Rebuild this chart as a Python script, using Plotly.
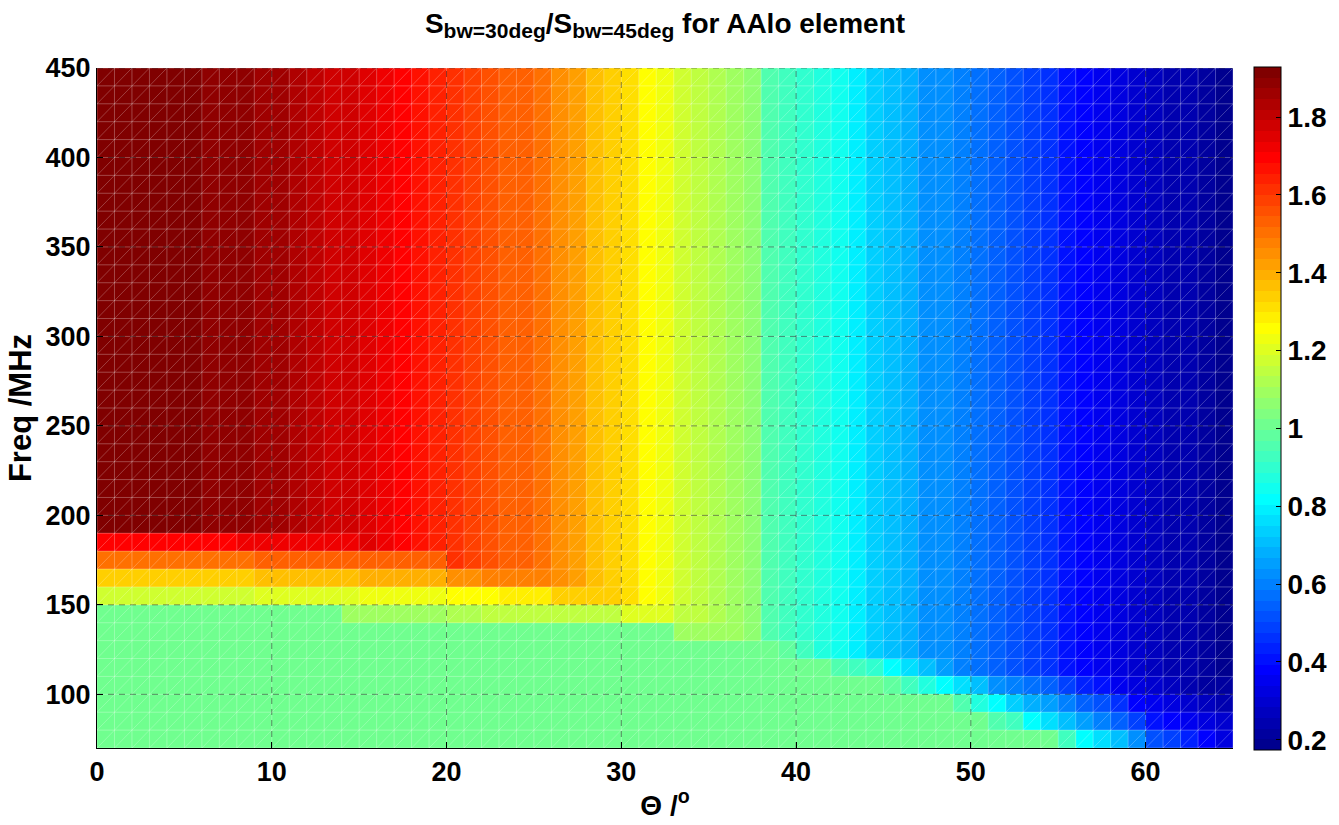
import plotly.graph_objects as go

# ---------------- data ----------------
# cell edges
theta_edges = list(range(0, 66))          # Theta / deg, 0..65
freq_edges = list(range(70, 451, 10))      # Freq / MHz, 70..450

x_tickvals = [0, 10, 20, 30, 40, 50, 60]
y_tickvals = [100, 150, 200, 250, 300, 350, 400, 450]
cb_tickvals = [0.2, 0.4, 0.6, 0.8, 1.0, 1.2, 1.4, 1.6, 1.8]
cb_ticktext = ["0.2", "0.4", "0.6", "0.8", "1", "1.2", "1.4", "1.6", "1.8"]

# ratio per theta column (0..64) for every freq row from 190 MHz up to 450 MHz
top_profile = [1.905, 1.91, 1.915, 1.92, 1.92, 1.915, 1.895, 1.89, 1.88, 1.865,
               1.85, 1.835, 1.805, 1.785, 1.77, 1.75, 1.725, 1.695, 1.67, 1.64,
               1.615, 1.585, 1.56, 1.535, 1.525, 1.505, 1.45, 1.42, 1.365, 1.34,
               1.31, 1.255, 1.23, 1.175, 1.145, 1.12, 1.095, 1.065, 0.955, 0.93,
               0.90, 0.875, 0.845, 0.79, 0.735, 0.71, 0.68, 0.63, 0.625, 0.60,
               0.57, 0.545, 0.515, 0.49, 0.46, 0.41, 0.38, 0.355, 0.325, 0.30,
               0.27, 0.245, 0.235, 0.215, 0.19]

row_70 = [1.00, 1.00, 1.00, 1.00, 1.00, 1.00, 1.00, 1.00, 1.00, 1.00,
          1.00, 1.00, 1.00, 1.00, 1.00, 1.00, 1.00, 1.00, 1.00, 1.00,
          1.00, 1.00, 1.00, 1.00, 1.00, 1.00, 1.00, 1.00, 1.00, 1.00,
          1.00, 1.00, 1.00, 1.00, 1.00, 1.00, 1.00, 1.00, 1.00, 1.00,
          1.00, 1.00, 1.00, 1.00, 1.00, 1.00, 1.00, 1.00, 1.00, 1.00,
          1.00, 1.00, 1.00, 1.00, 1.00, 0.93, 0.82, 0.765, 0.71, 0.63,
          0.515, 0.49, 0.435, 0.38, 0.325]
row_80 = [1.00, 1.00, 1.00, 1.00, 1.00, 1.00, 1.00, 1.00, 1.00, 1.00,
          1.00, 1.00, 1.00, 1.00, 1.00, 1.00, 1.00, 1.00, 1.00, 1.00,
          1.00, 1.00, 1.00, 1.00, 1.00, 1.00, 1.00, 1.00, 1.00, 1.00,
          1.00, 1.00, 1.00, 1.00, 1.00, 1.00, 1.00, 1.00, 1.00, 1.00,
          1.00, 1.00, 1.00, 1.00, 1.00, 1.00, 1.00, 1.00, 1.00, 1.00,
          1.00, 0.955, 0.93, 0.82, 0.765, 0.71, 0.655, 0.60, 0.545, 0.49,
          0.41, 0.38, 0.355, 0.325, 0.30]
row_90 = [1.00, 1.00, 1.00, 1.00, 1.00, 1.00, 1.00, 1.00, 1.00, 1.00,
          1.00, 1.00, 1.00, 1.00, 1.00, 1.00, 1.00, 1.00, 1.00, 1.00,
          1.00, 1.00, 1.00, 1.00, 1.00, 1.00, 1.00, 1.00, 1.00, 1.00,
          1.00, 1.00, 1.00, 1.00, 1.00, 1.00, 1.00, 1.00, 1.00, 1.00,
          1.00, 1.00, 1.00, 1.00, 1.00, 1.00, 1.00, 1.00, 1.00, 0.955,
          0.875, 0.82, 0.735, 0.68, 0.655, 0.60, 0.545, 0.515, 0.46, 0.38,
          0.355, 0.325, 0.30, 0.27, 0.245]
row_100 = [1.00, 1.00, 1.00, 1.00, 1.00, 1.00, 1.00, 1.00, 1.00, 1.00,
           1.00, 1.00, 1.00, 1.00, 1.00, 1.00, 1.00, 1.00, 1.00, 1.00,
           1.00, 1.00, 1.00, 1.00, 1.00, 1.00, 1.00, 1.00, 1.00, 1.00,
           1.00, 1.00, 1.00, 1.00, 1.00, 1.00, 1.00, 1.00, 1.00, 1.00,
           1.00, 1.00, 1.00, 1.00, 1.00, 0.985, 0.93, 0.875, 0.82, 0.765,
           0.71, 0.63, 0.60, 0.57, 0.545, 0.49, 0.435, 0.41, 0.355, 0.325,
           0.30, 0.27, 0.245, 0.215, 0.21]
row_110 = [1.00, 1.00, 1.00, 1.00, 1.00, 1.00, 1.00, 1.00, 1.00, 1.00,
           1.00, 1.00, 1.00, 1.00, 1.00, 1.00, 1.00, 1.00, 1.00, 1.00,
           1.00, 1.00, 1.00, 1.00, 1.00, 1.00, 1.00, 1.00, 1.00, 1.00,
           1.00, 1.00, 1.00, 1.00, 1.00, 1.00, 1.00, 1.00, 1.00, 1.00,
           1.00, 1.00, 0.955, 0.93, 0.90, 0.82, 0.765, 0.71, 0.655, 0.60,
           0.57, 0.545, 0.515, 0.49, 0.46, 0.41, 0.38, 0.355, 0.325, 0.30,
           0.27, 0.245, 0.235, 0.215, 0.19]
row_120 = [1.00, 1.00, 1.00, 1.00, 1.00, 1.00, 1.00, 1.00, 1.00, 1.00,
           1.00, 1.00, 1.00, 1.00, 1.00, 1.00, 1.00, 1.00, 1.00, 1.00,
           1.00, 1.00, 1.00, 1.00, 1.00, 1.00, 1.00, 1.00, 1.00, 1.00,
           1.00, 1.00, 1.00, 1.00, 1.00, 1.00, 1.00, 1.00, 1.00, 0.985,
           0.93, 0.875, 0.845, 0.79, 0.735, 0.71, 0.68, 0.63, 0.625, 0.60,
           0.57, 0.545, 0.515, 0.49, 0.46, 0.41, 0.38, 0.355, 0.325, 0.30,
           0.27, 0.245, 0.235, 0.215, 0.19]
row_130 = [1.00, 1.00, 1.00, 1.00, 1.00, 1.00, 1.00, 1.00, 1.00, 1.00,
           1.00, 1.00, 1.00, 1.00, 1.00, 1.00, 1.00, 1.00, 1.00, 1.00,
           1.00, 1.00, 1.00, 1.00, 1.00, 1.00, 1.00, 1.00, 1.00, 1.00,
           1.00, 1.00, 1.00, 1.095, 1.095, 1.095, 1.095, 1.065, 0.955, 0.93,
           0.90, 0.875, 0.845, 0.79, 0.735, 0.71, 0.68, 0.63, 0.625, 0.60,
           0.57, 0.545, 0.515, 0.49, 0.46, 0.41, 0.38, 0.355, 0.325, 0.30,
           0.27, 0.245, 0.235, 0.215, 0.19]
row_140 = [1.00, 1.00, 1.00, 1.00, 1.00, 1.00, 1.00, 1.00, 1.00, 1.00,
           1.00, 1.00, 1.00, 1.00, 1.095, 1.095, 1.095, 1.095, 1.095, 1.095,
           1.12, 1.12, 1.145, 1.145, 1.145, 1.145, 1.145, 1.145, 1.145, 1.145,
           1.20, 1.20, 1.20, 1.145, 1.145, 1.12, 1.095, 1.065, 0.955, 0.93,
           0.90, 0.875, 0.845, 0.79, 0.735, 0.71, 0.68, 0.63, 0.625, 0.60,
           0.57, 0.545, 0.515, 0.49, 0.46, 0.41, 0.38, 0.355, 0.325, 0.30,
           0.27, 0.245, 0.235, 0.215, 0.19]
row_150 = [1.175, 1.175, 1.175, 1.175, 1.175, 1.175, 1.175, 1.175, 1.175, 1.20,
           1.20, 1.20, 1.20, 1.20, 1.20, 1.23, 1.23, 1.23, 1.23, 1.23,
           1.255, 1.255, 1.255, 1.285, 1.285, 1.285, 1.34, 1.34, 1.34, 1.34,
           1.31, 1.255, 1.23, 1.175, 1.145, 1.12, 1.095, 1.065, 0.955, 0.93,
           0.90, 0.875, 0.845, 0.79, 0.735, 0.71, 0.68, 0.63, 0.625, 0.60,
           0.57, 0.545, 0.515, 0.49, 0.46, 0.41, 0.38, 0.355, 0.325, 0.30,
           0.27, 0.245, 0.235, 0.215, 0.19]
row_160 = [1.34, 1.34, 1.34, 1.34, 1.34, 1.34, 1.34, 1.34, 1.34, 1.365,
           1.365, 1.365, 1.365, 1.365, 1.365, 1.395, 1.395, 1.395, 1.395, 1.395,
           1.45, 1.45, 1.475, 1.475, 1.475, 1.475, 1.45, 1.42, 1.365, 1.34,
           1.31, 1.255, 1.23, 1.175, 1.145, 1.12, 1.095, 1.065, 0.955, 0.93,
           0.90, 0.875, 0.845, 0.79, 0.735, 0.71, 0.68, 0.63, 0.625, 0.60,
           0.57, 0.545, 0.515, 0.49, 0.46, 0.41, 0.38, 0.355, 0.325, 0.30,
           0.27, 0.245, 0.235, 0.215, 0.19]
row_170 = [1.505, 1.505, 1.505, 1.505, 1.505, 1.505, 1.505, 1.505, 1.505, 1.535,
           1.535, 1.535, 1.535, 1.535, 1.535, 1.535, 1.535, 1.535, 1.535, 1.535,
           1.615, 1.585, 1.56, 1.535, 1.525, 1.505, 1.45, 1.42, 1.365, 1.34,
           1.31, 1.255, 1.23, 1.175, 1.145, 1.12, 1.095, 1.065, 0.955, 0.93,
           0.90, 0.875, 0.845, 0.79, 0.735, 0.71, 0.68, 0.63, 0.625, 0.60,
           0.57, 0.545, 0.515, 0.49, 0.46, 0.41, 0.38, 0.355, 0.325, 0.30,
           0.27, 0.245, 0.235, 0.215, 0.19]
row_180 = [1.70, 1.70, 1.70, 1.70, 1.70, 1.70, 1.70, 1.70, 1.725, 1.725,
           1.725, 1.725, 1.725, 1.725, 1.725, 1.75, 1.725, 1.695, 1.67, 1.64,
           1.615, 1.585, 1.56, 1.535, 1.525, 1.505, 1.45, 1.42, 1.365, 1.34,
           1.31, 1.255, 1.23, 1.175, 1.145, 1.12, 1.095, 1.065, 0.955, 0.93,
           0.90, 0.875, 0.845, 0.79, 0.735, 0.71, 0.68, 0.63, 0.625, 0.60,
           0.57, 0.545, 0.515, 0.49, 0.46, 0.41, 0.38, 0.355, 0.325, 0.30,
           0.27, 0.245, 0.235, 0.215, 0.19]

lower_rows = [row_70, row_80, row_90, row_100, row_110, row_120,
              row_130, row_140, row_150, row_160, row_170, row_180]
# rows 190..440 MHz all read the same column profile
z = lower_rows + [top_profile for f in freq_edges[len(lower_rows):-1]]
for r in z:
    assert len(r) == len(theta_edges) - 1
assert len(z) == len(freq_edges) - 1

ZMIN, ZMAX = 0.175, 1.93


# ---------------- style ----------------
def matlab_jet(m=64):
    n = -(-m // 4)
    u = [i / n for i in range(1, n + 1)] + [1.0] * (n - 1) + [i / n for i in range(n, 0, -1)]
    off = -(-n // 2) - (1 if m % 4 == 1 else 0)
    g = [off + i for i in range(1, len(u) + 1)]
    r = [gi + n for gi in g]
    b = [gi - n for gi in g]
    J = [[0.0, 0.0, 0.0] for _ in range(m)]
    rv = [ri for ri in r if ri <= m]
    for i, ri in enumerate(rv):
        J[ri - 1][0] = u[i]
    gv = [gi for gi in g if gi <= m]
    for i, gi in enumerate(gv):
        J[gi - 1][1] = u[i]
    bv = [bi for bi in b if bi >= 1]
    for i, bi in enumerate(bv):
        J[bi - 1][2] = u[len(u) - len(bv) + i]
    return J


jet = matlab_jet(64)
colorscale = []
for k, (rr, gg, bb) in enumerate(jet):
    col = "rgb(%d,%d,%d)" % (round(rr * 255), round(gg * 255), round(bb * 255))
    colorscale.append([k / 64, col])
    colorscale.append([(k + 1) / 64, col])

FONT = "Liberation Sans, Arial, Helvetica, sans-serif"
TICK_SIZE = 27

fig = go.Figure()
fig.add_trace(go.Heatmap(
    x=theta_edges, y=freq_edges, z=z,
    zmin=ZMIN, zmax=ZMAX, colorscale=colorscale,
    hoverinfo="skip",
    colorbar=dict(
        x=1.0185, xanchor="left", xpad=0,
        y=0.5, yanchor="middle", ypad=0,
        len=683, lenmode="pixels",
        thickness=27, thicknessmode="pixels",
        outlinecolor="black", outlinewidth=1,
        tickvals=cb_tickvals, ticktext=cb_ticktext,
        ticks="inside", ticklen=5, tickcolor="black",
        tickfont=dict(family=FONT, size=28, color="black", weight="bold"),
    ),
))

# faceted mesh lines (cell edges and cell diagonals)
mx, my = [], []
for t in theta_edges:
    mx += [t, t, None]
    my += [freq_edges[0], freq_edges[-1], None]
for f in freq_edges:
    mx += [theta_edges[0], theta_edges[-1], None]
    my += [f, f, None]
fig.add_trace(go.Scatter(x=mx, y=my, mode="lines", hoverinfo="skip", showlegend=False,
                         line=dict(color="rgba(255,255,255,0.28)", width=1)))

dx, dy = [], []
ni, nj = len(theta_edges) - 1, len(freq_edges) - 1
starts = [(i, 0) for i in range(ni)] + [(0, j) for j in range(1, nj)]
for i0, j0 in starts:
    s = min(ni - i0, nj - j0)
    dx += [theta_edges[i0], theta_edges[i0 + s], None]
    dy += [freq_edges[j0], freq_edges[j0 + s], None]
fig.add_trace(go.Scatter(x=dx, y=dy, mode="lines", hoverinfo="skip", showlegend=False,
                         line=dict(color="rgba(255,255,255,0.30)", width=0.8)))

# dashed major grid drawn above the surface
shapes = []
for xv in x_tickvals[1:]:
    shapes.append(dict(type="line", xref="x", yref="y", x0=xv, x1=xv,
                       y0=freq_edges[0], y1=freq_edges[-1], layer="above",
                       line=dict(color="rgba(0,0,0,0.45)", width=1, dash="6px,5px")))
for yv in y_tickvals:
    shapes.append(dict(type="line", xref="x", yref="y", x0=theta_edges[0], x1=theta_edges[-1],
                       y0=yv, y1=yv, layer="above",
                       line=dict(color="rgba(0,0,0,0.45)", width=1, dash="6px,5px")))

SUB = '<span style="font-size:21px">%s</span>'
title_text = ("S<sub>" + SUB % "bw=30deg" + "</sub>/S<sub>" + SUB % "bw=45deg"
              + "</sub> for AAlo element")

fig.update_layout(
    width=1339, height=825,
    margin=dict(l=97, r=106, t=68, b=77, autoexpand=False),
    paper_bgcolor="white", plot_bgcolor="white",
    font=dict(family=FONT, size=TICK_SIZE, color="black", weight="bold"),
    shapes=shapes,
    showlegend=False,
    title=dict(text=title_text, x=0.5, xref="paper", xanchor="center",
               y=1 - 13 / 825, yref="container", yanchor="top",
               font=dict(family=FONT, size=28, color="black", weight="bold")),
    xaxis=dict(range=[theta_edges[0], theta_edges[-1]], tickvals=x_tickvals,
               ticks="inside", ticklen=6, tickcolor="black",
               showline=True, linecolor="black", linewidth=1, mirror=False,
               showgrid=False, zeroline=False, automargin=False,
               tickfont=dict(family=FONT, size=TICK_SIZE, color="black", weight="bold"),
               title=dict(text="\u0398 /<sup>o</sup>", standoff=8,
                          font=dict(family=FONT, size=28, color="black", weight="bold"))),
    yaxis=dict(range=[freq_edges[0], freq_edges[-1]], tickvals=y_tickvals,
               ticks="inside", ticklen=6, tickcolor="black",
               showline=True, linecolor="black", linewidth=1, mirror=False,
               showgrid=False, zeroline=False, automargin=False,
               tickfont=dict(family=FONT, size=TICK_SIZE, color="black", weight="bold"),
               title=dict(text="Freq /MHz", standoff=4,
                          font=dict(family=FONT, size=31, color="black", weight="bold"))),
)

fig.write_html("out.html")
